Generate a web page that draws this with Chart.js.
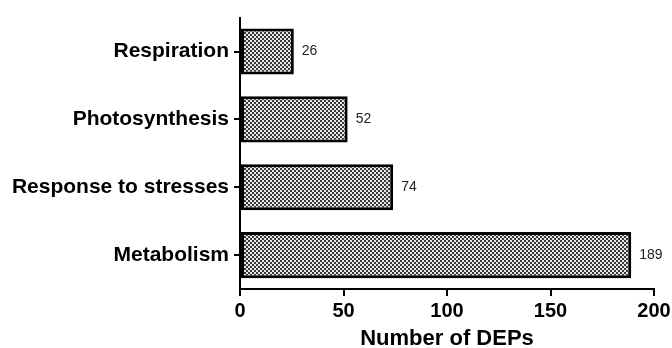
<!DOCTYPE html>
<html>
<head>
    <title>Number of DEPs</title>
    <script src="https://cdn.jsdelivr.net/npm/chart.js"></script>
    <style>
        body { margin: 0; background: #fff; }
        #box { width: 672px; height: 348px; }
    </style>
</head>
<body>
    <div id="box"><canvas id="barChart"></canvas></div>

    <script>
        let categories = ["Respiration", "Photosynthesis", "Response to stresses", "Metabolism"];
        let counts = [26, 52, 74, 189];
        let xTicks = [0, 50, 100, 150, 200];

        // checkerboard fill like the original
        function makePattern() {
            let c = document.createElement("canvas");
            c.width = 4;
            c.height = 4;
            let p = c.getContext("2d");
            p.fillStyle = "#e6e6e6";
            p.fillRect(0, 0, 4, 4);
            p.fillStyle = "#3a3a3a";
            p.fillRect(0, 0, 2, 2);
            p.fillRect(2, 2, 2, 2);
            return p.createPattern(c, "repeat");
        }

        let valueLabels = {
            id: "valueLabels",
            afterDatasetsDraw(chart) {
                let ctx = chart.ctx;
                let meta = chart.getDatasetMeta(0);
                ctx.save();
                ctx.font = "14px 'Liberation Sans', Arial, sans-serif";
                ctx.fillStyle = "#222";
                ctx.textBaseline = "middle";
                meta.data.forEach((bar, i) => {
                    ctx.fillText(String(counts[i]), bar.x + 8, bar.y);
                });
                ctx.restore();
            }
        };

        let font = "'Liberation Sans', Arial, sans-serif";
        let ctx = document.getElementById("barChart").getContext("2d");
        new Chart(ctx, {
            type: "bar",
            data: {
                labels: categories,
                datasets: [{
                    data: counts,
                    backgroundColor: makePattern(),
                    borderColor: "#000",
                    borderWidth: 3,
                    borderSkipped: false,
                    barPercentage: 0.68,
                    categoryPercentage: 1
                }]
            },
            options: {
                indexAxis: "y",
                responsive: true,
                maintainAspectRatio: false,
                animation: false,
                layout: { padding: { top: 11, right: 18, left: 0, bottom: 0 } },
                plugins: { legend: { display: false }, tooltip: { enabled: false } },
                scales: {
                    x: {
                        min: 0,
                        max: 200,
                        afterBuildTicks: s => { s.ticks = xTicks.map(v => ({ value: v })); },
                        afterFit: s => { s.height = 59; s.paddingRight = 0; },
                        border: { display: true, color: "#000", width: 2 },
                        grid: { drawOnChartArea: false, color: "#000", lineWidth: 2, tickLength: 7 },
                        ticks: { color: "#000", padding: 3, font: { family: font, size: 20, weight: "bold" } },
                        title: { display: true, text: "Number of DEPs", color: "#000", padding: { top: 0, bottom: -4 },
                                 font: { family: font, size: 22, weight: "bold" } }
                    },
                    y: {
                        afterFit: s => { s.width = 240; },
                        border: { display: true, color: "#000", width: 2 },
                        grid: { drawOnChartArea: false, offset: false, color: "#000", lineWidth: 2, tickLength: 6 },
                        ticks: { color: "#000", padding: 5, font: { family: font, size: 21, weight: "bold" } }
                    }
                }
            },
            plugins: [valueLabels]
        });
    </script>
</body>
</html>
